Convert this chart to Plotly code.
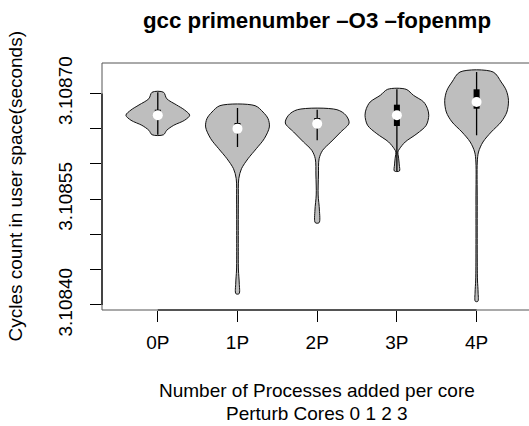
import plotly.graph_objects as go

# Categories and summary statistics (seconds)
categories = ["0P", "1P", "2P", "3P", "4P"]
whisker_lo = [3.1086414, 3.1086240, 3.1086335, 3.1085900, 3.1086406]
q1 = [3.1086637, 3.1086467, 3.1086524, 3.1086538, 3.1086783]
median = [3.1086690, 3.1086500, 3.1086570, 3.1086690, 3.1086878]
q3 = [3.1086769, 3.1086580, 3.1086651, 3.1086840, 3.1087058]
whisker_hi = [3.1087016, 3.1086793, 3.1086769, 3.1087058, 3.1087303]

# Kernel density profiles: levels (seconds) and relative density (max = 1)
levels_0p = [3.1087016, 3.1086925, 3.1086836, 3.1086765, 3.1086690, 3.1086619,
             3.1086548, 3.1086477, 3.1086414]
dens_0p = [0.18, 0.28, 0.59, 0.84, 1.00, 0.84, 0.50, 0.28, 0.18]

levels_1p = [3.1086826, 3.1086736, 3.1086641, 3.1086524, 3.1086358, 3.1086216,
             3.1086074, 3.1085932, 3.1085791, 3.1085489, 3.1084922, 3.1084496,
             3.1084312, 3.1084160]
dens_1p = [0.55, 0.80, 0.96, 1.00, 0.84, 0.59, 0.33, 0.125, 0.04, 0.028, 0.025,
           0.03, 0.055, 0.05]

levels_2p = [3.1086769, 3.1086690, 3.1086580, 3.1086453, 3.1086311, 3.1086193,
             3.1086074, 3.1085843, 3.1085560, 3.1085347, 3.1085167]
dens_2p = [0.62, 0.90, 1.00, 0.74, 0.43, 0.17, 0.06, 0.04, 0.03, 0.07, 0.06]

levels_3p = [3.1087058, 3.1086973, 3.1086878, 3.1086783, 3.1086690, 3.1086548,
             3.1086429, 3.1086311, 3.1086216, 3.1086169, 3.1086098, 3.1085985,
             3.1085900]
dens_3p = [0.29, 0.52, 0.84, 0.96, 1.00, 0.92, 0.63, 0.26, 0.085, 0.03, 0.05,
           0.075, 0.08]

levels_4p = [3.1087303, 3.1087162, 3.1087044, 3.1086902, 3.1086736, 3.1086595,
             3.1086453, 3.1086311, 3.1086169, 3.1086027, 3.1085489, 3.1084780,
             3.1084354, 3.1084184, 3.1084052]
dens_4p = [0.52, 0.77, 0.93, 1.00, 0.95, 0.77, 0.46, 0.20, 0.06, 0.022, 0.02,
           0.02, 0.028, 0.047, 0.04]

# Axis ticks
ytick_vals = [3.10840, 3.10845, 3.10850, 3.10855, 3.10860, 3.10865, 3.10870]
ytick_text = ["3.10840", "", "", "3.10855", "", "", "3.10870"]

profiles = [(levels_0p, dens_0p), (levels_1p, dens_1p), (levels_2p, dens_2p),
            (levels_3p, dens_3p), (levels_4p, dens_4p)]

HALF_WIDTH = 0.4
FONT = "Liberation Sans, Arial, sans-serif"
AXIS_SIZE = 19

fig = go.Figure()

for i, (lev, den) in enumerate(profiles):
    pos = i + 1
    xs = [pos + HALF_WIDTH * d for d in den] + [pos - HALF_WIDTH * d for d in reversed(den)]
    ys = list(lev) + list(reversed(lev))
    xs.append(xs[0])
    ys.append(ys[0])
    fig.add_trace(go.Scatter(
        x=xs, y=ys, mode="lines", fill="toself", fillcolor="#BEBEBE",
        line=dict(color="#111111", width=1, shape="spline", smoothing=0.9),
        hoverinfo="skip", showlegend=False))
    # whisker
    fig.add_trace(go.Scatter(
        x=[pos, pos], y=[whisker_lo[i], whisker_hi[i]], mode="lines",
        line=dict(color="black", width=1.3), hoverinfo="skip", showlegend=False))
    # interquartile box
    fig.add_trace(go.Scatter(
        x=[pos, pos], y=[q1[i], q3[i]], mode="lines",
        line=dict(color="black", width=6), hoverinfo="skip", showlegend=False))
    # median
    fig.add_trace(go.Scatter(
        x=[pos], y=[median[i]], mode="markers",
        marker=dict(color="white", size=10, line=dict(width=0)),
        hoverinfo="skip", showlegend=False))

fig.update_layout(
    width=529, height=426,
    margin=dict(l=102, r=0, t=63, b=116),
    paper_bgcolor="white", plot_bgcolor="white",
    font=dict(family=FONT, size=AXIS_SIZE, color="black"),
    title=dict(text="<b>gcc primenumber –O3 –fopenmp</b>",
               x=317 / 529, xanchor="center",
               y=1 - 20.5 / 426, yanchor="middle",
               font=dict(family=FONT, size=22.3, color="black")),
)

fig.update_xaxes(
    range=[0.3, 0.3 + 427 / 79.7], tickmode="array",
    tickvals=[1, 2, 3, 4, 5], ticktext=categories,
    ticks="outside", ticklen=11, tickcolor="black", tickwidth=1,
    ticklabelstandoff=4,
    showgrid=False, zeroline=False, showline=False,
)
fig.update_yaxes(
    range=[3.1083929, 3.1087431], tickmode="array",
    tickvals=ytick_vals, ticktext=ytick_text, tickangle=-90,
    ticks="outside", ticklen=11, tickcolor="black", tickwidth=1,
    ticklabelstandoff=10,
    showgrid=False, zeroline=False, showline=False,
)

# plot frame
fig.add_shape(type="rect", xref="paper", yref="paper", x0=0, x1=1.02, y0=0, y1=1,
              line=dict(color="#555555", width=1), layer="above")
fig.add_shape(type="line", xref="x", yref="paper", x0=1, x1=5, y0=0, y1=0,
              line=dict(color="black", width=1.2), layer="above")
fig.add_shape(type="line", xref="paper", yref="y", x0=0, x1=0,
              y0=3.10840, y1=3.10870, line=dict(color="black", width=1.2), layer="above")

# axis titles
xtitle_lines = ["Number of Processes added per core", "Perturb Cores 0 1 2 3"]
for line_text, yc in zip(xtitle_lines, [390.7, 413.3]):
    fig.add_annotation(text=line_text, xref="paper", yref="paper",
                       x=(317 - 102) / 427, y=-(yc - 310) / 247,
                       xanchor="center", yanchor="middle", showarrow=False,
                       font=dict(family=FONT, size=AXIS_SIZE, color="black"))
fig.add_annotation(text="Cycles count in user space(seconds)",
                   xref="paper", yref="paper", x=-(102 - 15) / 427, y=0.5,
                   xanchor="center", yanchor="middle", textangle=-90, showarrow=False,
                   font=dict(family=FONT, size=AXIS_SIZE, color="black"))

fig.write_html("out.html")
